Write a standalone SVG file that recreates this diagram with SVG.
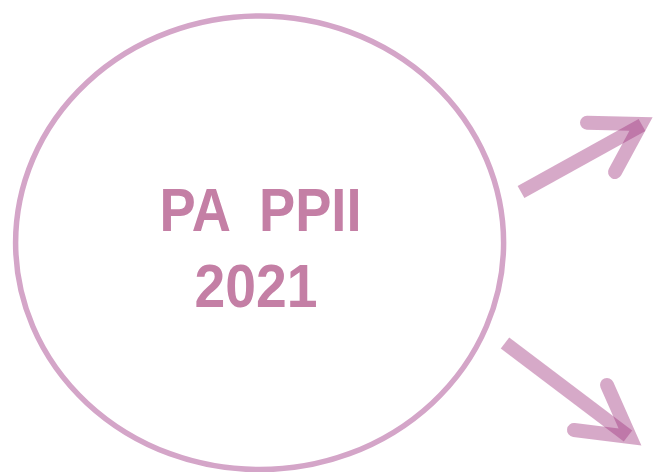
<svg xmlns="http://www.w3.org/2000/svg" width="653" height="472" viewBox="0 0 653 472">
<style>
.ring{fill:none;stroke:#d4a5c8;stroke-width:5.5}
.lbl{font-family:"Liberation Sans Narrow","Liberation Sans",Arial,sans-serif;font-weight:bold;font-size:61px;fill:#c47fa5}
.shaft{fill:none;stroke:#9f377f;stroke-opacity:0.43;stroke-width:14;stroke-linecap:butt}
.head{fill:none;stroke:#9f377f;stroke-opacity:0.43;stroke-width:14;stroke-linecap:round;stroke-linejoin:miter;stroke-miterlimit:10}
</style>
<rect width="653" height="472" fill="#ffffff"/>
<g id="node-main">
<ellipse class="ring" cx="259.6" cy="242.8" rx="244" ry="226.8"/>
<text class="lbl" x="159.5" y="231" textLength="202" lengthAdjust="spacingAndGlyphs" xml:space="preserve">PA  PPII</text>
<text class="lbl" x="194.5" y="307" textLength="123" lengthAdjust="spacingAndGlyphs">2021</text>
</g>
<g id="connectors">
<g id="arrow-up">
<line class="shaft" x1="521" y1="192" x2="642" y2="125"/>
<polyline class="head" points="587,122.7 641,124 615,172"/>
</g>
<g id="arrow-down">
<line class="shaft" x1="505" y1="343" x2="628" y2="436"/>
<polyline class="head" points="607,385 630,437 574,430"/>
</g>
</g>
</svg>
